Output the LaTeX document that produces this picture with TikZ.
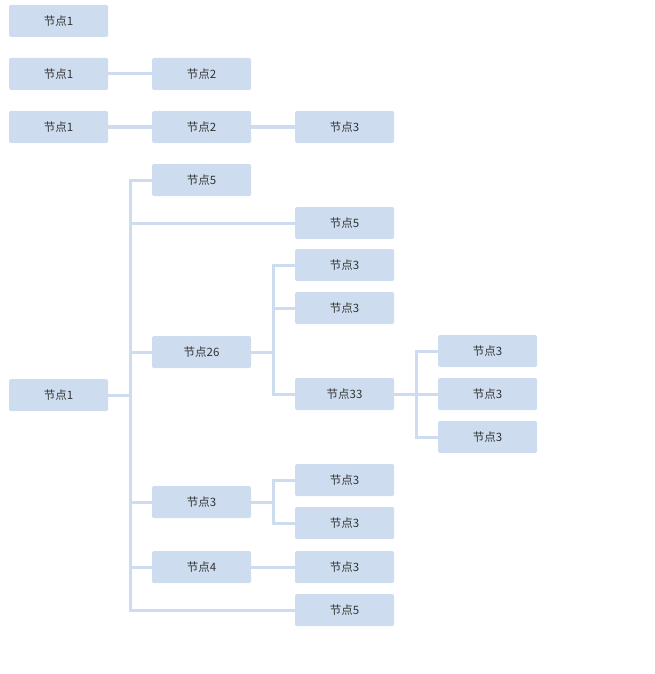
\documentclass[tikz,border=0pt]{standalone}
\usepackage{fontspec}
\usepackage{xcolor}
\usepackage{tikz}
\usetikzlibrary{positioning}
\newfontfamily\cjk{Noto Sans CJK SC}
\definecolor{nodeblue}{RGB}{205,221,239}
\definecolor{textgray}{RGB}{51,51,51}
\tikzset{
	box/.style={rectangle, fill=nodeblue, minimum width=99pt, minimum height=32pt, rounded corners=1.5pt, text=textgray, font=\cjk\fontsize{11.5}{13}\selectfont}, % every block
	link/.style={draw=nodeblue, line width=3pt}, % every connector
}
\begin{document}
\begin{tikzpicture}[node distance=143pt, on grid]
			\useasboundingbox (0,0) rectangle (655pt,-674pt);
			% Single block
			\node[box] (a1) at (58.5pt,-21pt) {节点1};
			
			% Two blocks
			\node[box, below=53pt of a1] (b1) {节点1};
			\node[box, right=of b1] (b2) {节点2};
			
			% Three blocks
			\node[box, below=53pt of b1] (c1) {节点1};
			\node[box, right=of c1] (c2) {节点2};
			\node[box, right=of c2] (c3) {节点3};
			
			% Tree
			\node[box, below=268pt of c1] (r) {节点1};
			\node[box, above right=215pt and 143pt of r] (r5) {节点5};
			\node[box, above right=172pt and 286pt of r] (r5b) {节点5};
			\node[box, above right=43pt and 143pt of r] (r26) {节点26};
			\node[box, above right=87pt and 143pt of r26] (r26a) {节点3};
			\node[box, above right=44pt and 143pt of r26] (r26b) {节点3};
			\node[box, below right=42pt and 143pt of r26] (r33) {节点33};
			\node[box, above right=43pt and 143pt of r33] (r33a) {节点3};
			\node[box, right=of r33] (r33b) {节点3};
			\node[box, below right=43pt and 143pt of r33] (r33c) {节点3};
			\node[box, below right=107pt and 143pt of r] (r3) {节点3};
			\node[box, above right=22pt and 143pt of r3] (r3a) {节点3};
			\node[box, below right=21pt and 143pt of r3] (r3b) {节点3};
			\node[box, below right=172pt and 143pt of r] (r4) {节点4};
			\node[box, right=of r4] (r4a) {节点3};
			\node[box, below right=215pt and 286pt of r] (r5c) {节点5};
			
			% Connectors
			\draw[link] (b1) -- (b2);
			\draw[link] (c1) -- (c2);
			\draw[link] (c2) -- (c3);
			\foreach \c in {r5,r5b,r26,r3,r4,r5c}
				\draw[link] (r.east) -- ++(22pt,0) |- (\c.west);
			\foreach \c in {r26a,r26b,r33}
				\draw[link] (r26.east) -- ++(22pt,0) |- (\c.west);
			\foreach \c in {r33a,r33b,r33c}
				\draw[link] (r33.east) -- ++(22pt,0) |- (\c.west);
			\foreach \c in {r3a,r3b}
				\draw[link] (r3.east) -- ++(22pt,0) |- (\c.west);
			\draw[link] (r4) -- (r4a);
		\end{tikzpicture}
\end{document}
